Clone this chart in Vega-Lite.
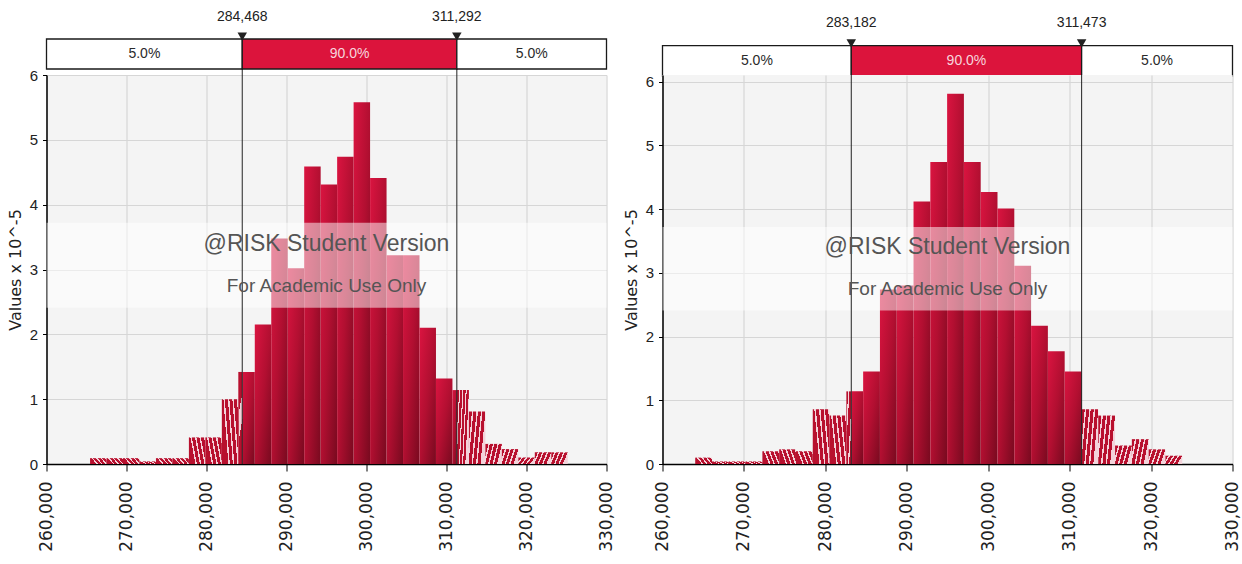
{
  "$schema": "https://vega.github.io/schema/vega-lite/v6.json",
  "background": "white",
  "padding": {"left": 6.5, "top": 9, "right": 0, "bottom": 0},
  "bounds": "flush",
  "align": "none",
  "columns": 2,
  "spacing": {"row": 0, "column": 56},
  "datasets": {
    "bandL": [
      {"a": 260000, "b": 284468, "pct": "5.0%", "seg": "tail"},
      {"a": 284468, "b": 311292, "pct": "90.0%", "seg": "mid"},
      {"a": 311292, "b": 330000, "pct": "5.0%", "seg": "tail"}
    ],
    "bandR": [
      {"a": 260000, "b": 283182, "pct": "5.0%", "seg": "tail"},
      {"a": 283182, "b": 311473, "pct": "90.0%", "seg": "mid"},
      {"a": 311473, "b": 330000, "pct": "5.0%", "seg": "tail"}
    ],
    "cutL": [{"v": 284468}, {"v": 311292}],
    "cutR": [{"v": 283182}, {"v": 311473}],
    "binsL": [
      {"lo": 265445, "hi": 267504, "h": 0.09, "kind": "left"},
      {"lo": 267504, "hi": 269563, "h": 0.09, "kind": "left"},
      {"lo": 269563, "hi": 271622, "h": 0.09, "kind": "left"},
      {"lo": 271622, "hi": 273681, "h": 0.04, "kind": "left"},
      {"lo": 273681, "hi": 275740, "h": 0.09, "kind": "left"},
      {"lo": 275740, "hi": 277799, "h": 0.09, "kind": "left"},
      {"lo": 277799, "hi": 279858, "h": 0.41, "kind": "left"},
      {"lo": 279858, "hi": 281917, "h": 0.41, "kind": "left"},
      {"lo": 281917, "hi": 283976, "h": 1.0, "kind": "left"},
      {"lo": 283976, "hi": 284468, "h": 1.42, "kind": "left"},
      {"lo": 284468, "hi": 286035, "h": 1.42, "kind": "body"},
      {"lo": 286035, "hi": 288094, "h": 2.15, "kind": "body"},
      {"lo": 288094, "hi": 290153, "h": 3.48, "kind": "body"},
      {"lo": 290153, "hi": 292212, "h": 3.02, "kind": "body"},
      {"lo": 292212, "hi": 294271, "h": 4.59, "kind": "body"},
      {"lo": 294271, "hi": 296330, "h": 4.31, "kind": "body"},
      {"lo": 296330, "hi": 298389, "h": 4.74, "kind": "body"},
      {"lo": 298389, "hi": 300448, "h": 5.58, "kind": "body"},
      {"lo": 300448, "hi": 302507, "h": 4.41, "kind": "body"},
      {"lo": 302507, "hi": 304566, "h": 3.22, "kind": "body"},
      {"lo": 304566, "hi": 306625, "h": 3.22, "kind": "body"},
      {"lo": 306625, "hi": 308684, "h": 2.10, "kind": "body"},
      {"lo": 308684, "hi": 310743, "h": 1.32, "kind": "body"},
      {"lo": 310743, "hi": 311292, "h": 1.14, "kind": "body"},
      {"lo": 311292, "hi": 312802, "h": 1.14, "kind": "right"},
      {"lo": 312802, "hi": 314861, "h": 0.81, "kind": "right"},
      {"lo": 314861, "hi": 316920, "h": 0.31, "kind": "right"},
      {"lo": 316920, "hi": 318979, "h": 0.23, "kind": "right"},
      {"lo": 318979, "hi": 321038, "h": 0.10, "kind": "right"},
      {"lo": 321038, "hi": 323097, "h": 0.18, "kind": "right"},
      {"lo": 323097, "hi": 325156, "h": 0.18, "kind": "right"}
    ],
    "binsR": [
      {"lo": 264017, "hi": 266079, "h": 0.10, "kind": "left"},
      {"lo": 266079, "hi": 268142, "h": 0.04, "kind": "left"},
      {"lo": 268142, "hi": 270204, "h": 0.04, "kind": "left"},
      {"lo": 270204, "hi": 272267, "h": 0.04, "kind": "left"},
      {"lo": 272267, "hi": 274329, "h": 0.20, "kind": "left"},
      {"lo": 274329, "hi": 276391, "h": 0.23, "kind": "left"},
      {"lo": 276391, "hi": 278454, "h": 0.20, "kind": "left"},
      {"lo": 278454, "hi": 280516, "h": 0.86, "kind": "left"},
      {"lo": 280516, "hi": 282579, "h": 0.76, "kind": "left"},
      {"lo": 282579, "hi": 283182, "h": 1.14, "kind": "left"},
      {"lo": 283182, "hi": 284641, "h": 1.14, "kind": "body"},
      {"lo": 284641, "hi": 286703, "h": 1.45, "kind": "body"},
      {"lo": 286703, "hi": 288766, "h": 2.74, "kind": "body"},
      {"lo": 288766, "hi": 290828, "h": 2.80, "kind": "body"},
      {"lo": 290828, "hi": 292891, "h": 4.12, "kind": "body"},
      {"lo": 292891, "hi": 294953, "h": 4.74, "kind": "body"},
      {"lo": 294953, "hi": 297015, "h": 5.81, "kind": "body"},
      {"lo": 297015, "hi": 299078, "h": 4.74, "kind": "body"},
      {"lo": 299078, "hi": 301140, "h": 4.27, "kind": "body"},
      {"lo": 301140, "hi": 303203, "h": 4.01, "kind": "body"},
      {"lo": 303203, "hi": 305265, "h": 3.11, "kind": "body"},
      {"lo": 305265, "hi": 307327, "h": 2.17, "kind": "body"},
      {"lo": 307327, "hi": 309390, "h": 1.77, "kind": "body"},
      {"lo": 309390, "hi": 311473, "h": 1.45, "kind": "body"},
      {"lo": 311473, "hi": 313514, "h": 0.86, "kind": "right"},
      {"lo": 313514, "hi": 315577, "h": 0.76, "kind": "right"},
      {"lo": 315577, "hi": 317639, "h": 0.29, "kind": "right"},
      {"lo": 317639, "hi": 319702, "h": 0.39, "kind": "right"},
      {"lo": 319702, "hi": 321764, "h": 0.23, "kind": "right"},
      {"lo": 321764, "hi": 323827, "h": 0.13, "kind": "right"}
    ]
  },
  "concat": [
    {
      "width": 560,
      "height": 66,
      "view": {"stroke": null},
      "layer": [
        {
          "data": {"name": "cutL"},
          "mark": {"type": "rule", "color": "#222222", "strokeWidth": 1},
          "encoding": {
            "x": {"field": "v", "type": "quantitative", "scale": {"domain": [260000, 330000], "nice": false, "zero": false}, "axis": null},
            "y": {"datum": -0.2, "type": "quantitative", "scale": {"domain": [-0.2, 2], "nice": false, "zero": false}, "axis": null},
            "y2": {"datum": 0}
          }
        },
        {
          "data": {"name": "bandL"},
          "mark": {"type": "rect", "stroke": "#1a1a1a", "strokeWidth": 1.3},
          "encoding": {
            "x": {"field": "a", "type": "quantitative"},
            "x2": {"field": "b"},
            "y": {"datum": 0, "type": "quantitative"},
            "y2": {"datum": 1},
            "fill": {"condition": {"test": "datum.seg === 'mid'", "value": "#dc143c"}, "value": "#ffffff"}
          }
        },
        {
          "data": {"name": "bandL"},
          "transform": [{"calculate": "(datum.a + datum.b) / 2", "as": "m"}],
          "mark": {"type": "text", "font": "Liberation Sans", "fontSize": 14, "baseline": "middle", "align": "center"},
          "encoding": {
            "x": {"field": "m", "type": "quantitative"},
            "y": {"datum": 0.5, "type": "quantitative"},
            "text": {"field": "pct"},
            "color": {"condition": {"test": "datum.seg === 'mid'", "value": "#f7d5dd"}, "value": "#2a2a2a"}
          }
        },
        {
          "data": {"name": "cutL"},
          "mark": {"type": "point", "shape": "triangle-down", "filled": true, "size": 90, "color": "#222222", "opacity": 1},
          "encoding": {
            "x": {"field": "v", "type": "quantitative"},
            "y": {"datum": 1.08, "type": "quantitative"}
          }
        },
        {
          "data": {"name": "cutL"},
          "mark": {"type": "text", "font": "Liberation Sans", "fontSize": 14, "baseline": "middle", "align": "center", "color": "#222222"},
          "encoding": {
            "x": {"field": "v", "type": "quantitative"},
            "y": {"datum": 1.74, "type": "quantitative"},
            "text": {"field": "v", "type": "quantitative", "format": ",d"}
          }
        }
      ]
    },
    {
      "width": 570,
      "height": 66,
      "view": {"stroke": null},
      "layer": [
        {
          "data": {"name": "bandR"},
          "mark": {"type": "rect", "stroke": "#1a1a1a", "strokeWidth": 1.3},
          "encoding": {
            "x": {"field": "a", "type": "quantitative", "scale": {"domain": [260000, 330000], "nice": false, "zero": false}, "axis": null},
            "x2": {"field": "b"},
            "y": {"datum": 0, "type": "quantitative", "scale": {"domain": [0.033, 2.211], "nice": false, "zero": false}, "axis": null},
            "y2": {"datum": 1},
            "fill": {"condition": {"test": "datum.seg === 'mid'", "value": "#dc143c"}, "value": "#ffffff"}
          }
        },
        {
          "data": {"name": "bandR"},
          "transform": [{"calculate": "(datum.a + datum.b) / 2", "as": "m"}],
          "mark": {"type": "text", "font": "Liberation Sans", "fontSize": 14, "baseline": "middle", "align": "center"},
          "encoding": {
            "x": {"field": "m", "type": "quantitative"},
            "y": {"datum": 0.5, "type": "quantitative"},
            "text": {"field": "pct"},
            "color": {"condition": {"test": "datum.seg === 'mid'", "value": "#f7d5dd"}, "value": "#2a2a2a"}
          }
        },
        {
          "data": {"name": "cutR"},
          "mark": {"type": "point", "shape": "triangle-down", "filled": true, "size": 90, "color": "#222222", "opacity": 1},
          "encoding": {
            "x": {"field": "v", "type": "quantitative"},
            "y": {"datum": 1.08, "type": "quantitative"}
          }
        },
        {
          "data": {"name": "cutR"},
          "mark": {"type": "text", "font": "Liberation Sans", "fontSize": 14, "baseline": "middle", "align": "center", "color": "#222222"},
          "encoding": {
            "x": {"field": "v", "type": "quantitative"},
            "y": {"datum": 1.74, "type": "quantitative"},
            "text": {"field": "v", "type": "quantitative", "format": ",d"}
          }
        }
      ]
    },
    {
      "width": 560,
      "height": 389,
      "view": {"fill": "#f4f4f4", "stroke": null},
      "layer": [
        {
          "data": {"name": "binsL"},
          "transform": [{"filter": "datum.kind === 'body'"}],
          "mark": {"type": "rect", "fill": {"gradient": "linear", "x1": 0, "y1": 0, "x2": 1, "y2": 1, "stops": [{"offset": 0, "color": "#da1440"}, {"offset": 0.5, "color": "#b20f31"}, {"offset": 1, "color": "#780a1f"}]}},
          "encoding": {
            "x": {"field": "lo", "type": "quantitative", "scale": {"domain": [260000, 330000], "nice": false, "zero": false},
              "axis": {"values": [260000, 270000, 280000, 290000, 300000, 310000, 320000, 330000], "format": ",d", "labelAngle": -90, "labelFont": "DejaVu Sans", "labelFontSize": 17, "labelColor": "#222222", "labelPadding": 10, "tickSize": 7, "tickColor": "#000000", "domainColor": "#000000", "domainWidth": 1.5, "gridColor": "#d6d6d6", "gridWidth": 1.2, "title": null, "labelFlush": false, "labelOverlap": false}},
            "x2": {"field": "hi"},
            "y": {"field": "h", "type": "quantitative", "scale": {"domain": [0, 6], "nice": false},
              "axis": {"values": [0, 1, 2, 3, 4, 5, 6], "format": "d", "title": "Values x 10^-5", "titleFont": "DejaVu Sans", "titleFontSize": 16, "titleFontWeight": "normal", "titleColor": "#222222", "titlePadding": 6, "labelFont": "Liberation Sans", "labelFontSize": 15, "labelColor": "#222222", "labelPadding": 5, "tickSize": 4, "tickColor": "#000000", "domainColor": "#000000", "domainWidth": 1.5, "gridColor": "#d6d6d6", "gridWidth": 1.2}},
            "y2": {"datum": 0}
          }
        },
        {
          "data": {"name": "binsL"},
          "transform": [{"filter": "datum.kind === 'left'"}],
          "mark": {"type": "rect", "fill": {"gradient": "linear", "x1": 0, "y1": 0.3, "x2": 1, "y2": 0, "stops": [{"offset": 0, "color": "#b8102e"}, {"offset": 0.17, "color": "#b8102e"}, {"offset": 0.17, "color": "#f3d3da"}, {"offset": 0.25, "color": "#f3d3da"}, {"offset": 0.25, "color": "#b8102e"}, {"offset": 0.42, "color": "#b8102e"}, {"offset": 0.42, "color": "#f3d3da"}, {"offset": 0.5, "color": "#f3d3da"}, {"offset": 0.5, "color": "#b8102e"}, {"offset": 0.67, "color": "#b8102e"}, {"offset": 0.67, "color": "#f3d3da"}, {"offset": 0.75, "color": "#f3d3da"}, {"offset": 0.75, "color": "#b8102e"}, {"offset": 0.92, "color": "#b8102e"}, {"offset": 0.92, "color": "#f3d3da"}, {"offset": 1, "color": "#f3d3da"}]}},
          "encoding": {
            "x": {"field": "lo", "type": "quantitative"},
            "x2": {"field": "hi"},
            "y": {"field": "h", "type": "quantitative"},
            "y2": {"datum": 0}
          }
        },
        {
          "data": {"name": "binsL"},
          "transform": [{"filter": "datum.kind === 'right'"}],
          "mark": {"type": "rect", "fill": {"gradient": "linear", "x1": 0, "y1": 0, "x2": 1, "y2": 0.3, "stops": [{"offset": 0, "color": "#b8102e"}, {"offset": 0.17, "color": "#b8102e"}, {"offset": 0.17, "color": "#f3d3da"}, {"offset": 0.25, "color": "#f3d3da"}, {"offset": 0.25, "color": "#b8102e"}, {"offset": 0.42, "color": "#b8102e"}, {"offset": 0.42, "color": "#f3d3da"}, {"offset": 0.5, "color": "#f3d3da"}, {"offset": 0.5, "color": "#b8102e"}, {"offset": 0.67, "color": "#b8102e"}, {"offset": 0.67, "color": "#f3d3da"}, {"offset": 0.75, "color": "#f3d3da"}, {"offset": 0.75, "color": "#b8102e"}, {"offset": 0.92, "color": "#b8102e"}, {"offset": 0.92, "color": "#f3d3da"}, {"offset": 1, "color": "#f3d3da"}]}},
          "encoding": {
            "x": {"field": "lo", "type": "quantitative"},
            "x2": {"field": "hi"},
            "y": {"field": "h", "type": "quantitative"},
            "y2": {"datum": 0}
          }
        },
        {
          "data": {"values": [{}]},
          "mark": {"type": "rect", "fill": "#ffffff", "opacity": 0.5},
          "encoding": {
            "x": {"datum": 260000, "type": "quantitative"},
            "x2": {"datum": 330000},
            "y": {"datum": 2.41, "type": "quantitative"},
            "y2": {"datum": 3.72}
          }
        },
        {
          "data": {"name": "cutL"},
          "mark": {"type": "rule", "color": "#222222", "strokeWidth": 1},
          "encoding": {"x": {"field": "v", "type": "quantitative"}}
        },
        {
          "data": {"values": [{"t": "@RISK Student Version"}]},
          "mark": {"type": "text", "font": "Liberation Sans", "fontSize": 23, "color": "#555555", "baseline": "middle", "align": "center"},
          "encoding": {
            "x": {"datum": 295000, "type": "quantitative"},
            "y": {"datum": 3.4, "type": "quantitative"},
            "text": {"field": "t"}
          }
        },
        {
          "data": {"values": [{"t": "For Academic Use Only"}]},
          "mark": {"type": "text", "font": "Liberation Sans", "fontSize": 19, "color": "#555555", "baseline": "middle", "align": "center"},
          "encoding": {
            "x": {"datum": 295000, "type": "quantitative"},
            "y": {"datum": 2.74, "type": "quantitative"},
            "text": {"field": "t"}
          }
        }
      ]
    },
    {
      "width": 570,
      "height": 389,
      "view": {"fill": "#f4f4f4", "stroke": null},
      "layer": [
        {
          "data": {"name": "binsR"},
          "transform": [{"filter": "datum.kind === 'body'"}],
          "mark": {"type": "rect", "fill": {"gradient": "linear", "x1": 0, "y1": 0, "x2": 1, "y2": 1, "stops": [{"offset": 0, "color": "#da1440"}, {"offset": 0.5, "color": "#b20f31"}, {"offset": 1, "color": "#780a1f"}]}},
          "encoding": {
            "x": {"field": "lo", "type": "quantitative", "scale": {"domain": [260000, 330000], "nice": false, "zero": false},
              "axis": {"values": [260000, 270000, 280000, 290000, 300000, 310000, 320000, 330000], "format": ",d", "labelAngle": -90, "labelFont": "DejaVu Sans", "labelFontSize": 17, "labelColor": "#222222", "labelPadding": 10, "tickSize": 7, "tickColor": "#000000", "domainColor": "#000000", "domainWidth": 1.5, "gridColor": "#d6d6d6", "gridWidth": 1.2, "title": null, "labelFlush": false, "labelOverlap": false}},
            "x2": {"field": "hi"},
            "y": {"field": "h", "type": "quantitative", "scale": {"domain": [0, 6.105], "nice": false},
              "axis": {"values": [0, 1, 2, 3, 4, 5, 6], "format": "d", "title": "Values x 10^-5", "titleFont": "DejaVu Sans", "titleFontSize": 16, "titleFontWeight": "normal", "titleColor": "#222222", "titlePadding": 6, "labelFont": "Liberation Sans", "labelFontSize": 15, "labelColor": "#222222", "labelPadding": 5, "tickSize": 4, "tickColor": "#000000", "domainColor": "#000000", "domainWidth": 1.5, "gridColor": "#d6d6d6", "gridWidth": 1.2}},
            "y2": {"datum": 0}
          }
        },
        {
          "data": {"name": "binsR"},
          "transform": [{"filter": "datum.kind === 'left'"}],
          "mark": {"type": "rect", "fill": {"gradient": "linear", "x1": 0, "y1": 0.3, "x2": 1, "y2": 0, "stops": [{"offset": 0, "color": "#b8102e"}, {"offset": 0.17, "color": "#b8102e"}, {"offset": 0.17, "color": "#f3d3da"}, {"offset": 0.25, "color": "#f3d3da"}, {"offset": 0.25, "color": "#b8102e"}, {"offset": 0.42, "color": "#b8102e"}, {"offset": 0.42, "color": "#f3d3da"}, {"offset": 0.5, "color": "#f3d3da"}, {"offset": 0.5, "color": "#b8102e"}, {"offset": 0.67, "color": "#b8102e"}, {"offset": 0.67, "color": "#f3d3da"}, {"offset": 0.75, "color": "#f3d3da"}, {"offset": 0.75, "color": "#b8102e"}, {"offset": 0.92, "color": "#b8102e"}, {"offset": 0.92, "color": "#f3d3da"}, {"offset": 1, "color": "#f3d3da"}]}},
          "encoding": {
            "x": {"field": "lo", "type": "quantitative"},
            "x2": {"field": "hi"},
            "y": {"field": "h", "type": "quantitative"},
            "y2": {"datum": 0}
          }
        },
        {
          "data": {"name": "binsR"},
          "transform": [{"filter": "datum.kind === 'right'"}],
          "mark": {"type": "rect", "fill": {"gradient": "linear", "x1": 0, "y1": 0, "x2": 1, "y2": 0.3, "stops": [{"offset": 0, "color": "#b8102e"}, {"offset": 0.17, "color": "#b8102e"}, {"offset": 0.17, "color": "#f3d3da"}, {"offset": 0.25, "color": "#f3d3da"}, {"offset": 0.25, "color": "#b8102e"}, {"offset": 0.42, "color": "#b8102e"}, {"offset": 0.42, "color": "#f3d3da"}, {"offset": 0.5, "color": "#f3d3da"}, {"offset": 0.5, "color": "#b8102e"}, {"offset": 0.67, "color": "#b8102e"}, {"offset": 0.67, "color": "#f3d3da"}, {"offset": 0.75, "color": "#f3d3da"}, {"offset": 0.75, "color": "#b8102e"}, {"offset": 0.92, "color": "#b8102e"}, {"offset": 0.92, "color": "#f3d3da"}, {"offset": 1, "color": "#f3d3da"}]}},
          "encoding": {
            "x": {"field": "lo", "type": "quantitative"},
            "x2": {"field": "hi"},
            "y": {"field": "h", "type": "quantitative"},
            "y2": {"datum": 0}
          }
        },
        {
          "data": {"values": [{}]},
          "mark": {"type": "rect", "fill": "#ffffff", "opacity": 0.5},
          "encoding": {
            "x": {"datum": 260000, "type": "quantitative"},
            "x2": {"datum": 330000},
            "y": {"datum": 2.41, "type": "quantitative"},
            "y2": {"datum": 3.72}
          }
        },
        {
          "data": {"name": "cutR"},
          "mark": {"type": "rule", "color": "#222222", "strokeWidth": 1},
          "encoding": {"x": {"field": "v", "type": "quantitative"}}
        },
        {
          "data": {"values": [{"t": "@RISK Student Version"}]},
          "mark": {"type": "text", "font": "Liberation Sans", "fontSize": 23, "color": "#555555", "baseline": "middle", "align": "center"},
          "encoding": {
            "x": {"datum": 295000, "type": "quantitative"},
            "y": {"datum": 3.4, "type": "quantitative"},
            "text": {"field": "t"}
          }
        },
        {
          "data": {"values": [{"t": "For Academic Use Only"}]},
          "mark": {"type": "text", "font": "Liberation Sans", "fontSize": 19, "color": "#555555", "baseline": "middle", "align": "center"},
          "encoding": {
            "x": {"datum": 295000, "type": "quantitative"},
            "y": {"datum": 2.74, "type": "quantitative"},
            "text": {"field": "t"}
          }
        }
      ]
    }
  ]
}
